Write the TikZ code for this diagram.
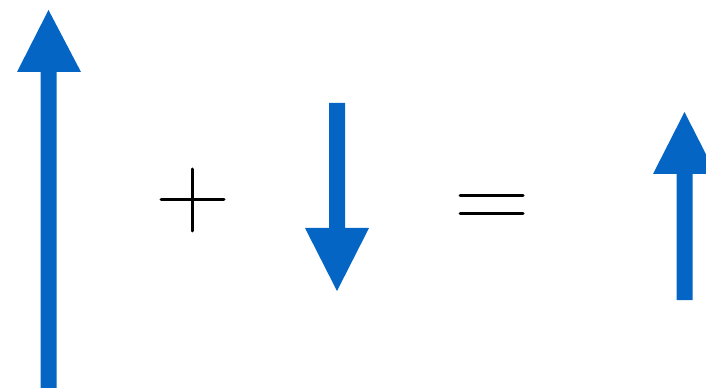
\documentclass[tikz,border=0pt]{standalone}
\definecolor{arrowblue}{HTML}{0565C4}
\tikzset{
  bluearrow/.style={fill=arrowblue, draw=none},
  symline/.style={draw=black, line width=2.25pt, line cap=round}
}
\begin{document}
\begin{tikzpicture}[x=0.75pt,y=-0.75pt]
\useasboundingbox (0,0) rectangle (706,388);
\clip (0,0) rectangle (706,388);
% arrow 1 (up, long)
\fill[bluearrow] (40.5,392) -- (40.5,72) -- (17,72) -- (48.5,10) -- (81,72) -- (56.5,72) -- (56.5,392) -- cycle;
% plus
\draw[symline] (161,200) -- (224,200);
\draw[symline] (192.5,169) -- (192.5,231);
% arrow 2 (down)
\fill[bluearrow] (329,103) -- (345,103) -- (345,228) -- (369,228) -- (337,291) -- (305,228) -- (329,228) -- cycle;
% equals
\draw[symline] (460,195.5) -- (523,195.5);
\draw[symline] (460,214) -- (523,214);
% arrow 3 (up, short)
\fill[bluearrow] (676.5,300) -- (676.5,174) -- (653,174) -- (684.5,112) -- (716,174) -- (692.5,174) -- (692.5,300) -- cycle;
\end{tikzpicture}
\end{document}
